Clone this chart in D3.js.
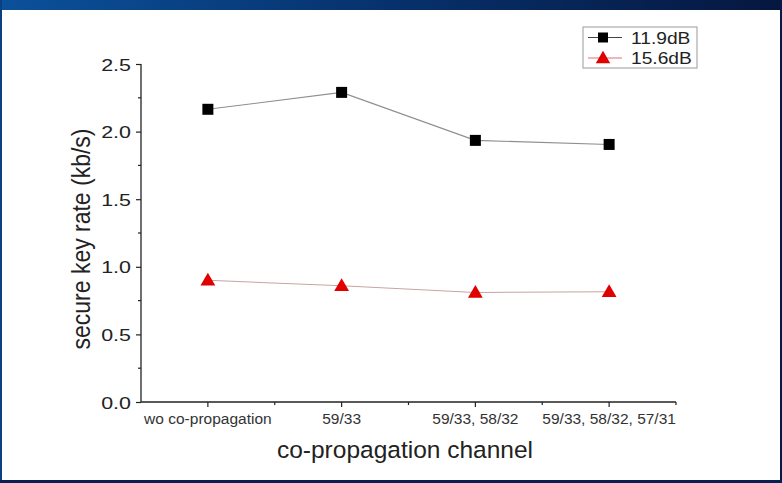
<!DOCTYPE html>
<html><head><meta charset="utf-8">
<script src="https://cdn.jsdelivr.net/npm/d3@7/dist/d3.min.js"></script>
<style>body{margin:0;background:#fff}svg{display:block}</style>
</head><body>
<script>
const categories = ["wo co-propagation","59/33","59/33, 58/32","59/33, 58/32, 57/31"];
const series119 = [2.165, 2.29, 1.935, 1.905];
const series156 = [0.90, 0.86, 0.81, 0.815];
const seriesNames = ["11.9dB","15.6dB"];
const yTicks = [0,0.5,1.0,1.5,2.0,2.5];

const W=782,H=483;
const svg=d3.select("body").append("svg").attr("width",W).attr("height",H);
const defs=svg.append("defs");
const g1=defs.append("linearGradient").attr("id","topg").attr("x1","0").attr("x2","1");
g1.append("stop").attr("offset","0").attr("stop-color","#0b519b");
g1.append("stop").attr("offset","0.5").attr("stop-color","#07316c");
g1.append("stop").attr("offset","1").attr("stop-color","#06173f");
svg.append("rect").attr("width",W).attr("height",H).attr("fill","#fff");
svg.append("rect").attr("x",0).attr("y",0).attr("width",W).attr("height",10).attr("fill","url(#topg)");
svg.append("rect").attr("x",0).attr("y",0).attr("width",2).attr("height",H).attr("fill","#0a3f80");
svg.append("rect").attr("x",W-2).attr("y",0).attr("width",2).attr("height",H).attr("fill","#061a45");
svg.append("rect").attr("x",0).attr("y",H-3).attr("width",W).attr("height",3).attr("fill","#07204f");

const x0=141,x1=676,yTop=64,yBot=402;
const xb=d3.scaleBand().domain(categories).range([x0,x1]);
const y=d3.scaleLinear().domain([0,2.5]).range([yBot,yTop]);
const cx=c=>xb(c)+xb.bandwidth()/2;

const font="Arial, 'Liberation Sans', sans-serif";
// y axis
const ya=svg.append("g").attr("transform",`translate(${x0},0)`)
 .call(d3.axisLeft(y).tickValues(yTicks).tickFormat(d3.format(".1f")).tickSize(5).tickPadding(0));
ya.select(".domain").attr("stroke","#222").attr("stroke-width",1.3).attr("d",`M0,${yBot}V${yTop}`);
ya.selectAll(".tick line").attr("stroke","#222").attr("stroke-width",1.2);
ya.selectAll(".tick text").attr("x",null).attr("dy",null)
 .attr("transform","translate(-10,6) scale(1.3,1)")
 .attr("font-family",font).attr("font-size",16.5).attr("fill","#222");
svg.append("g").selectAll("line").data(d3.range(0.25,2.5,0.5)).join("line")
 .attr("x1",x0-3).attr("x2",x0).attr("y1",d=>y(d)).attr("y2",d=>y(d)).attr("stroke","#222").attr("stroke-width",1.2);

// x axis
const xa=svg.append("g").attr("transform",`translate(0,${yBot})`)
 .call(d3.axisBottom(xb).tickSize(5).tickPadding(5));
xa.select(".domain").attr("stroke","#222").attr("stroke-width",1.3).attr("d",`M${x0},0H${x1}`);
xa.selectAll(".tick line").attr("stroke","#222").attr("stroke-width",1.2);
xa.selectAll(".tick text").attr("y",null).attr("dy",null).attr("transform","translate(0,22)")
 .attr("font-family",font).attr("font-size",15.5).attr("fill","#333");
svg.append("g").selectAll("line").data(categories).join("line")
 .attr("x1",d=>xb(d)+xb.bandwidth()).attr("x2",d=>xb(d)+xb.bandwidth())
 .attr("y1",yBot).attr("y2",yBot+3).attr("stroke","#222").attr("stroke-width",1.2);

// titles
svg.append("text").attr("x",405).attr("y",458).attr("text-anchor","middle")
 .attr("font-family",font).attr("font-size",24.5).attr("fill","#222").text("co-propagation channel");
svg.append("text").attr("transform","translate(90,239) scale(1.1,1) rotate(-90)").attr("text-anchor","middle")
 .attr("font-family",font).attr("font-size",23).attr("fill","#222").text("secure key rate (kb/s)");

const line=d3.line().x((d,i)=>cx(categories[i])).y(d=>y(d));
svg.append("path").datum(series119).attr("d",line).attr("fill","none").attr("stroke","#8e8e8e").attr("stroke-width",1.1);
svg.append("path").datum(series156).attr("d",line).attr("fill","none").attr("stroke","#c8a4a4").attr("stroke-width",1.1);

const sq=d3.symbol().type(d3.symbolSquare).size(121);
const tri=d3.symbol().type(d3.symbolTriangle).size(95);
svg.append("g").selectAll("path").data(series119).join("path")
 .attr("d",sq).attr("transform",(d,i)=>`translate(${cx(categories[i])},${y(d)})`).attr("fill","#000");
svg.append("g").selectAll("path").data(series156).join("path")
 .attr("d",tri).attr("transform",(d,i)=>`translate(${cx(categories[i])},${y(d)+1})`).attr("fill","#e00000");

// legend
const lg=svg.append("g");
lg.append("rect").attr("x",583).attr("y",27).attr("width",114).attr("height",41).attr("fill","#fff").attr("stroke","#aaa").attr("stroke-width",1.2);
const rows=[{n:seriesNames[0],sq:true,c:"#000",lc:"#444",yy:37.5},{n:seriesNames[1],sq:false,c:"#e00000",lc:"#e07070",yy:58}];
rows.forEach(r=>{
 lg.append("line").attr("x1",588).attr("x2",622).attr("y1",r.yy).attr("y2",r.yy).attr("stroke",r.lc).attr("stroke-width",1.2);
 lg.append("path").attr("d",r.sq?d3.symbol().type(d3.symbolSquare).size(100)():d3.symbol().type(d3.symbolTriangle).size(90)())
  .attr("transform",`translate(603,${r.yy+(r.sq?0:1)})`).attr("fill",r.c);
 lg.append("text").attr("transform",`translate(631,${r.yy+6}) scale(1.2,1)`).attr("font-family",font).attr("font-size",16).attr("fill","#222").text(r.n);
});
</script>
</body></html>
